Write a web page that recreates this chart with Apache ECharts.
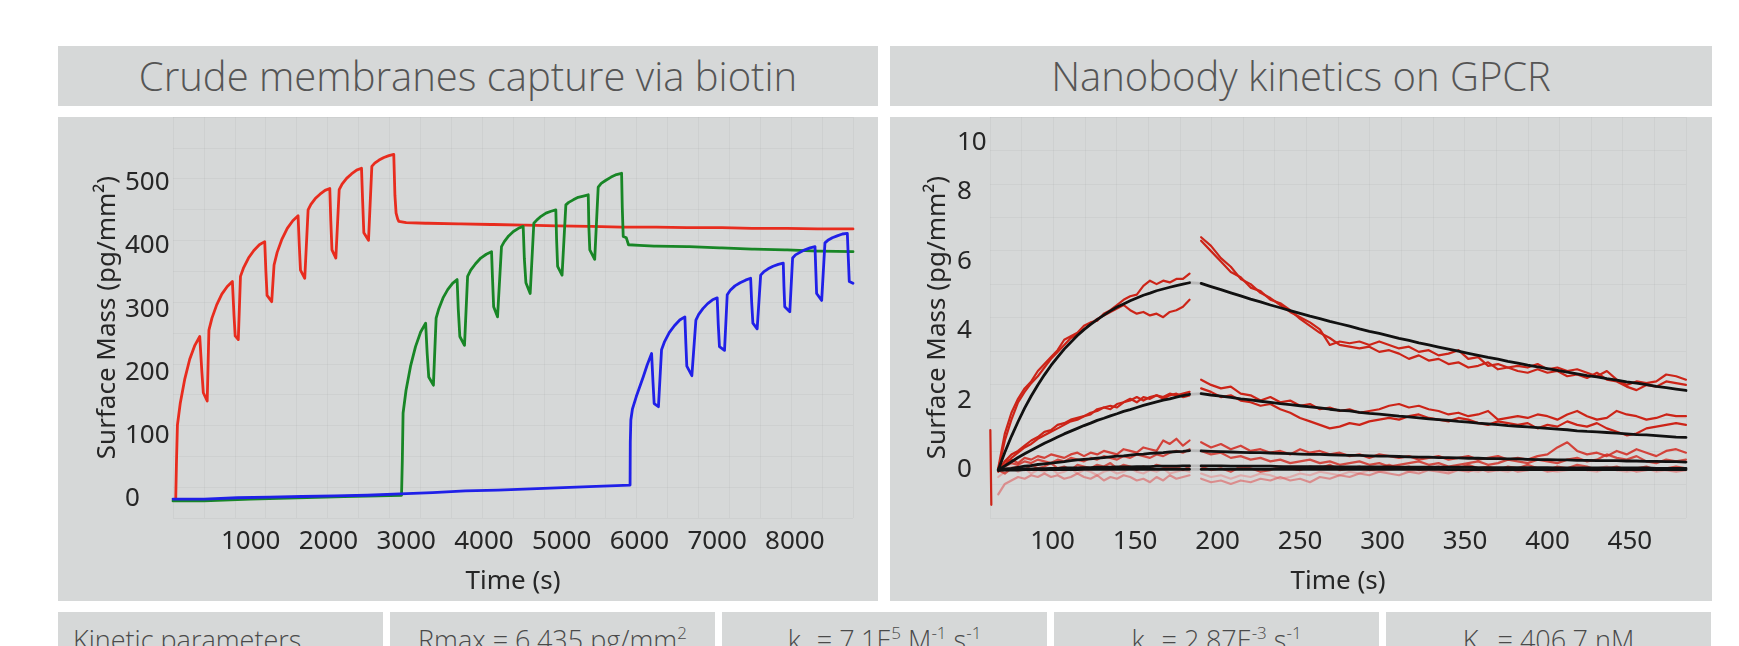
<!DOCTYPE html>
<html><head><meta charset="utf-8">
<script src="https://cdn.jsdelivr.net/npm/echarts@6/dist/echarts.min.js"></script>
<style>
html,body{margin:0;padding:0;background:#fff;width:1739px;height:646px;overflow:hidden;}
.p{position:absolute;background:#d6d8d8;}
.t{font-family:'Open Sans',sans-serif;font-weight:300;font-size:40px;color:#555;text-align:center;line-height:60px;white-space:nowrap;}
.c{font-family:'Open Sans',sans-serif;font-weight:300;font-size:27px;color:#4a4a4a;text-align:center;top:612px;height:40px;width:325px;padding-top:9px;line-height:37px;white-space:nowrap;}
.c sup{font-size:17px;line-height:0;vertical-align:11px;}
.c sub{font-size:17px;line-height:0;vertical-align:-8px;}
#chart{position:absolute;left:0;top:0;width:1739px;height:646px;}
</style></head>
<body>
<div class="p t" style="left:58px;top:46px;width:820px;height:60px;">Crude membranes capture via biotin</div>
<div class="p t" style="left:890px;top:46px;width:822px;height:60px;">Nanobody kinetics on GPCR</div>
<div class="p" style="left:58px;top:117px;width:820px;height:484px;"></div>
<div class="p" style="left:890px;top:117px;width:822px;height:484px;"></div>
<div class="p c" style="left:58px;text-align:left;padding-left:15px;width:310px;">Kinetic parameters</div>
<div class="p c" style="left:390px;">Rmax = 6.435 pg/mm<sup>2</sup></div>
<div class="p c" style="left:722px;">k<sub>a</sub> = 7.1E<sup>5</sup> M<sup>-1</sup> s<sup>-1</sup></div>
<div class="p c" style="left:1054px;">k<sub>d</sub> = 2.87E<sup>-3</sup> s<sup>-1</sup></div>
<div class="p c" style="left:1386px;">K<sub>D</sub> = 406.7 nM</div>
<div id="chart"></div>
<script>
// ---------- Left chart: capture (time s, surface mass pg/mm2) ----------
const leftXTicks = [1000,2000,3000,4000,5000,6000,7000,8000];
const leftYTicks = [0,100,200,300,400,500];
const redCapture = [[35,0],[45,60],[57,117],[94,152],[152,190],[215,221],[281,243],[344,257],
 [372,200],[390,168],[440,155],[452,152],
 [462,267],[501,286],[562,307],[628,324],[698,336],[764,344],
 [785,290],[800,258],[840,252],[852,249],
 [868,352],[909,366],[971,381],[1040,393],[1111,402],[1180,407],
 [1195,360],[1210,322],[1270,312],[1285,310],
 [1300,370],[1340,390],[1402,411],[1470,428],[1541,440],[1609,448],
 [1625,400],[1640,362],[1695,349],[1710,346],
 [1738,457],[1774,466],[1830,475],[1891,482],[1956,488],[2017,491],
 [2030,440],[2045,394],[2095,381],[2110,378],
 [2138,489],[2175,498],[2233,507],[2296,514],[2362,520],[2425,523],
 [2440,470],[2455,421],[2515,409],[2530,407],
 [2558,526],[2595,531],[2651,536],[2713,540],[2778,543],[2840,545],
 [2855,480],[2870,452],[2890,443],[2905,439],
 [3000,437],[3250,436],[3260,439],[3280,436],[3670,435],[3680,438],[3700,435],[4090,434],[4100,437],[4120,434],
 [4510,433],[4520,436],[4540,433],[4930,432],[4940,435],[4960,432],[5350,431],[5360,434],[5380,431],
 [5770,430],[5780,433],[5800,430],[6190,430],[6200,433],[6220,430],[6610,429],[6620,432],[6640,429],
 [7030,429],[7040,432],[7060,429],[7450,428],[7460,431],[7480,428],[7870,428],[7880,431],[7900,428],
 [8290,427],[8300,430],[8320,427],[8748,427]];
const greenCapture = [[0,-3],[400,-3],[420,0],[1000,0],[1020,2],[1600,2],[1620,4],[2200,4],[2220,6],[2940,6],
 [2950,60],[2960,136],[2998,172],[3056,210],[3120,241],[3186,264],[3250,278],
 [3270,230],[3290,193],[3350,180],[3365,178],
 [3385,286],[3420,301],[3474,318],[3534,331],[3596,341],[3655,347],
 [3670,300],[3690,257],[3750,243],[3767,241],
 [3790,352],[3830,362],[3892,372],[3959,381],[4030,387],[4098,391],
 [4110,350],[4125,304],[4175,288],[4190,286],
 [4226,399],[4262,407],[4318,416],[4379,423],[4444,428],[4505,431],
 [4520,380],[4540,342],[4595,325],[4610,323],
 [4642,436],[4679,441],[4735,447],[4798,452],[4863,455],[4925,457],
 [4935,410],[4948,368],[5005,354],[5020,352],
 [5054,465],[5091,469],[5149,473],[5212,477],[5279,479],[5342,481],
 [5350,430],[5362,394],[5425,379],[5440,377],
 [5470,493],[5509,499],[5569,504],[5636,509],[5705,513],[5771,515],
 [5780,460],[5792,415],[5815,414],[5832,413],[5860,402],
 [6000,401],[6190,400],[6200,403],[6220,400],[6610,399],[6620,402],[6640,399],[7030,397],[7040,400],[7060,397],
 [7450,395],[7460,398],[7480,395],[7870,394],[7880,397],[7900,394],[8290,392],[8300,395],[8320,392],[8748,391]];
const blueCapture = [[0,0],[400,0],[420,2],[830,2],[850,3],[1240,3],[1260,4],[1660,4],[1680,5],[2080,5],[2100,6],
 [2500,6],[2520,8],[2920,8],[2940,10],[3340,10],[3360,13],[3760,13],[3780,14],[4180,14],[4200,16],[4600,16],
 [4620,18],[5020,18],[5040,20],[5440,20],[5460,22],[5880,22],
 [5883,90],[5890,125],[5910,142],[5960,162],[6049,193],[6100,212],[6157,230],
 [6175,185],[6190,151],[6245,146],[6260,145],
 [6285,236],[6324,249],[6384,263],[6450,274],[6519,283],[6585,288],
 [6598,245],[6610,210],[6675,195],[6690,193],
 [6727,283],[6763,292],[6817,301],[6878,309],[6941,315],[7001,318],
 [7015,275],[7030,241],[7095,235],[7110,233],
 [7130,323],[7169,330],[7229,337],[7296,342],[7365,346],[7431,349],
 [7445,310],[7460,278],[7515,269],[7530,267],
 [7560,354],[7598,359],[7656,364],[7720,368],[7787,371],[7851,373],
 [7860,335],[7870,304],[7935,296],[7950,294],
 [7971,381],[8008,386],[8066,390],[8129,394],[8196,397],[8259,399],
 [8270,360],[8280,325],[8345,314],[8360,312],
 [8387,405],[8424,409],[8482,413],[8545,416],[8612,419],[8675,420],
 [8688,380],[8700,344],[8748,341]];

// ---------- Right chart: kinetics ----------
const rightXTicks = [100,150,200,250,300,350,400,450];
const rightYTicks = [0,2,4,6,8,10];
const assocT = [67,71,75,79,83,87,91,95,99,103,107,111,115,119,123,127,131,135,139,143,147,151,155,159,163,167,171,175,179,183];
const dissocT = [190,196,202,208,214,220,226,232,238,244,250,256,262,268,274,280,286,292,298,304,310,316,322,328,334,340,346,352,358,364,370,376,382,388,394,400,406,412,418,424,430,436,442,448,454,460,466,472,478,484];
const injectSpike = [[62.2,1.15],[62.8,-1.0]];
const trA1a = [0.05,1.05,1.65,2.05,2.35,2.55,2.85,3.05,3.25,3.45,3.75,3.85,3.95,4.15,4.25,4.3,4.5,4.6,4.75,4.9,5.0,5.05,5.3,5.45,5.35,5.45,5.4,5.5,5.5,5.65];
const trA2a = [0.0,0.85,1.45,1.95,2.25,2.5,2.7,2.95,3.2,3.4,3.6,3.8,3.9,4.05,4.2,4.35,4.45,4.55,4.65,4.75,4.6,4.5,4.55,4.45,4.5,4.4,4.55,4.6,4.7,4.9];
const trA1d = [6.7,6.45,6.1,5.85,5.5,5.35,5.1,4.95,4.75,4.55,4.4,4.25,4.05,3.6,3.7,3.65,3.7,3.6,3.7,3.6,3.5,3.55,3.4,3.45,3.3,3.35,3.45,3.2,3.25,3.0,3.05,2.95,3.0,2.95,3.05,2.9,2.95,2.85,2.9,2.8,2.7,2.85,2.6,2.45,2.55,2.5,2.55,2.75,2.7,2.6];
const trA2d = [6.6,6.3,6.0,5.7,5.55,5.25,5.15,4.9,4.8,4.6,4.35,4.15,3.95,3.8,3.6,3.55,3.5,3.55,3.4,3.45,3.35,3.2,3.3,3.15,3.2,3.05,3.1,2.95,3.0,3.1,2.9,2.95,2.85,2.8,2.9,2.8,2.85,2.7,2.75,2.65,2.8,2.6,2.55,2.4,2.3,2.45,2.4,2.55,2.5,2.45];
const trB1a = [0.0,0.25,0.45,0.55,0.7,0.85,0.95,1.1,1.15,1.3,1.35,1.45,1.5,1.55,1.6,1.75,1.8,1.75,1.9,1.95,2.05,1.95,2.1,2.05,2.15,2.1,2.2,2.15,2.2,2.25];
const trB2a = [-0.05,0.15,0.35,0.5,0.65,0.75,0.9,1.0,1.1,1.2,1.3,1.4,1.45,1.55,1.65,1.7,1.8,1.85,1.8,1.95,2.0,2.1,2.0,2.1,2.15,2.05,2.15,2.2,2.1,2.15];
const trB1d = [2.6,2.45,2.35,2.4,2.2,2.15,2.0,2.1,1.95,2.0,1.85,1.9,1.75,1.8,1.7,1.75,1.65,1.7,1.75,1.85,1.9,1.8,1.85,1.75,1.7,1.6,1.65,1.55,1.6,1.7,1.45,1.5,1.55,1.5,1.6,1.55,1.45,1.6,1.7,1.55,1.45,1.5,1.7,1.6,1.55,1.45,1.5,1.6,1.55,1.55];
const trB2d = [2.35,2.25,2.1,2.15,2.0,1.95,1.85,1.9,1.75,1.65,1.5,1.4,1.3,1.2,1.25,1.35,1.3,1.4,1.45,1.5,1.45,1.55,1.6,1.5,1.45,1.4,1.5,1.45,1.35,1.3,1.4,1.35,1.3,1.35,1.2,1.3,1.25,1.4,1.3,1.25,1.35,1.2,1.1,1.0,1.05,1.2,1.25,1.3,1.35,1.3];
const trC1a = [0.0,0.25,0.3,0.2,0.35,0.3,0.4,0.35,0.45,0.4,0.35,0.45,0.5,0.4,0.5,0.45,0.55,0.5,0.45,0.6,0.55,0.5,0.65,0.6,0.55,0.85,0.75,0.9,0.7,0.85];
const trC2a = [0.0,0.1,0.2,0.15,0.25,0.2,0.3,0.25,0.2,0.3,0.25,0.35,0.3,0.25,0.35,0.3,0.4,0.35,0.3,0.4,0.35,0.45,0.4,0.35,0.45,0.4,0.5,0.55,0.5,0.6];
const trC1d = [0.8,0.65,0.75,0.6,0.7,0.55,0.6,0.5,0.55,0.45,0.6,0.5,0.55,0.45,0.5,0.4,0.45,0.35,0.45,0.4,0.35,0.4,0.3,0.35,0.4,0.3,0.35,0.4,0.3,0.35,0.4,0.3,0.35,0.3,0.4,0.45,0.65,0.8,0.55,0.45,0.5,0.4,0.55,0.45,0.6,0.5,0.4,0.55,0.6,0.5];
const trC2d = [0.55,0.45,0.5,0.35,0.4,0.3,0.35,0.25,0.3,0.2,0.25,0.3,0.2,0.25,0.15,0.2,0.25,0.15,0.2,0.1,0.15,0.2,0.25,0.15,0.2,0.1,0.15,0.2,0.25,0.15,0.2,0.3,0.25,0.2,0.3,0.25,0.2,0.3,0.35,0.25,0.3,0.45,0.35,0.3,0.4,0.25,0.2,0.3,0.25,0.3];
const trD1a = [0.0,-0.1,0.05,0.1,0.0,0.15,0.05,0.1,0.2,0.05,0.1,0.0,0.15,0.1,0.05,0.15,0.1,0.2,0.05,0.15,0.1,0.0,0.1,0.05,0.15,0.1,0.05,0.1,0.0,0.1];
const trD1d = [0.1,0.0,0.05,-0.05,0.1,0.05,-0.05,0.0,0.1,0.05,0.0,0.1,0.05,0.15,0.0,0.05,0.1,0.0,0.05,0.15,0.05,0.1,0.0,0.05,0.1,0.0,0.05,0.15,0.05,0.1,0.0,0.1,0.05,0.15,0.05,0.0,0.1,0.05,0.15,0.1,0.0,0.05,0.1,0.0,0.05,0.1,0.0,0.05,0.1,0.05];
const trE1a = [-0.7,-0.4,-0.3,-0.2,-0.25,-0.15,-0.2,-0.1,-0.2,-0.15,-0.25,-0.2,-0.1,-0.2,-0.25,-0.15,-0.3,-0.2,-0.25,-0.15,-0.2,-0.3,-0.25,-0.35,-0.2,-0.3,-0.15,-0.25,-0.2,-0.15];
const trE1d = [-0.25,-0.35,-0.3,-0.4,-0.3,-0.35,-0.25,-0.3,-0.2,-0.3,-0.25,-0.35,-0.2,-0.25,-0.15,-0.2,-0.1,-0.15,-0.05,-0.1,-0.15,-0.05,-0.1,0.0,-0.05,-0.1,0.0,-0.05,0.05,-0.05,0.0,0.05,-0.05,0.0,0.05,-0.05,0.0,0.05,0.1,0.0,0.05,0.1,0.0,0.05,-0.05,0.0,0.05,0.0,-0.05,0.0];
const trE2a = [-0.2,-0.05,0.1,-0.05,0.05,-0.1,0.0,-0.05,0.05,-0.1,-0.05,0.05,-0.1,0.0,-0.05,-0.15,-0.05,0.0,-0.1,-0.05,0.05,-0.05,-0.1,0.0,-0.05,0.05,-0.1,-0.05,0.0,-0.05];
const trE2d = [-0.1,-0.2,-0.15,-0.25,-0.15,-0.2,-0.1,-0.15,-0.25,-0.2,-0.1,-0.15,-0.05,-0.1,-0.15,-0.05,-0.1,0.0,-0.05,0.0,0.05,-0.05,0.0,0.05,0.0,-0.05,0.05,0.0,-0.05,0.05,0.0,-0.05,0.05,0.0,0.05,0.0,-0.05,0.0,0.05,0.0,-0.05,0.05,0.0,-0.05,0.0,0.05,-0.05,0.0,0.05,0.0];
const fit1a = [0,0.51,0.97,1.39,1.78,2.13,2.45,2.74,3.01,3.25,3.48,3.68,3.87,4.04,4.19,4.33,4.46,4.58,4.69,4.78,4.87,4.95,5.03,5.09,5.16,5.21,5.26,5.31,5.35,5.39];
const fit1d = [5.37,5.28,5.19,5.10,5.01,4.92,4.84,4.75,4.67,4.59,4.51,4.43,4.36,4.28,4.21,4.14,4.06,3.99,3.93,3.86,3.79,3.73,3.66,3.60,3.54,3.48,3.42,3.36,3.30,3.24,3.19,3.13,3.08,3.02,2.97,2.92,2.87,2.82,2.77,2.72,2.68,2.63,2.59,2.54,2.50,2.46,2.41,2.37,2.33,2.29];
const fit2a = [0,0.12,0.24,0.36,0.47,0.57,0.67,0.77,0.86,0.95,1.04,1.12,1.20,1.28,1.35,1.43,1.49,1.56,1.62,1.69,1.74,1.80,1.86,1.91,1.96,2.01,2.05,2.10,2.14,2.18];
const fit2d = [2.20,2.16,2.13,2.09,2.05,2.02,1.98,1.95,1.91,1.88,1.85,1.82,1.79,1.75,1.72,1.70,1.66,1.63,1.61,1.58,1.55,1.53,1.50,1.47,1.45,1.43,1.40,1.38,1.35,1.33,1.31,1.28,1.26,1.24,1.22,1.20,1.18,1.16,1.13,1.11,1.10,1.08,1.06,1.04,1.02,1.01,0.99,0.97,0.95,0.94];
const fit3a = [0,0.03,0.05,0.08,0.11,0.13,0.16,0.18,0.20,0.22,0.24,0.27,0.29,0.31,0.32,0.34,0.36,0.38,0.40,0.41,0.43,0.45,0.46,0.48,0.49,0.50,0.52,0.53,0.54,0.56];
const fit3d = [0.55,0.54,0.53,0.52,0.51,0.50,0.50,0.49,0.48,0.47,0.46,0.45,0.45,0.44,0.43,0.42,0.42,0.41,0.40,0.40,0.39,0.38,0.37,0.37,0.36,0.36,0.35,0.34,0.34,0.33,0.33,0.32,0.32,0.31,0.30,0.30,0.29,0.29,0.28,0.28,0.27,0.27,0.27,0.26,0.26,0.25,0.25,0.24,0.24,0.23];
const fit4a = [0,0.01,0.02,0.02,0.03,0.03,0.04,0.04,0.05,0.05,0.06,0.06,0.06,0.07,0.07,0.08,0.08,0.08,0.09,0.09,0.09,0.10,0.10,0.10,0.11,0.11,0.11,0.11,0.12,0.12];
const fit4d = [0.12,0.12,0.12,0.11,0.11,0.11,0.11,0.11,0.10,0.10,0.10,0.10,0.10,0.10,0.09,0.09,0.09,0.09,0.09,0.09,0.08,0.08,0.08,0.08,0.08,0.08,0.08,0.08,0.07,0.07,0.07,0.07,0.07,0.07,0.07,0.07,0.06,0.06,0.06,0.06,0.06,0.06,0.06,0.06,0.06,0.06,0.05,0.05,0.05,0.05];
const fit5a = [0,0,0,0,0.01,0.01,0.01,0.01,0.01,0.01,0.01,0.01,0.01,0.02,0.02,0.02,0.02,0.02,0.02,0.02,0.02,0.02,0.02,0.02,0.02,0.02,0.02,0.02,0.02,0.02];
const fit5d = [0.02,0.02,0.02,0.02,0.02,0.02,0.02,0.02,0.02,0.02,0.02,0.02,0.02,0.02,0.02,0.02,0.02,0.02,0.02,0.02,0.02,0.02,0.02,0.02,0.02,0.01,0.01,0.01,0.01,0.01,0.01,0.01,0.01,0.01,0.01,0.01,0.01,0.01,0.01,0.01,0.01,0.01,0.01,0.01,0.01,0.01,0.01,0.01,0.01,0.01];

const zip = (ts, vs) => ts.slice(0, vs.length).map((t, i) => [t, vs[i]]);
const TXT = '#262626', FONT = 'Noto Sans';
const RED_R = 'rgb(204,36,24)';

function line(data, color, width, xi, yi, z) {
  return {type:'line', data:data, xAxisIndex:xi, yAxisIndex:yi, showSymbol:false, symbol:'none',
    silent:true, animation:false, z:z||2, lineStyle:{color:color, width:width, join:'round', cap:'round'}};
}
const series = [];
series.push(line(redCapture, 'rgb(232,44,30)', 2.8, 0, 0));
series.push(line(greenCapture, 'rgb(24,134,38)', 2.8, 0, 0));
series.push(line(blueCapture, 'rgb(32,32,232)', 2.8, 0, 0));

const traceSets = [
  [trE2a, trE2d, 'rgba(232,120,120,0.45)', 2.2],
  [trE1a, trE1d, 'rgba(222,80,80,0.55)', 2.2],
  [trD1a, trD1d, 'rgba(210,40,30,0.75)', 2.2],
  [trC2a, trC2d, 'rgba(210,40,30,0.8)', 2.2],
  [trC1a, trC1d, 'rgba(210,40,30,0.85)', 2.2],
  [trB2a, trB2d, RED_R, 2.2],
  [trB1a, trB1d, RED_R, 2.2],
  [trA2a, trA2d, RED_R, 2.2],
  [trA1a, trA1d, RED_R, 2.2]
];
traceSets.forEach(s => {
  series.push(line(zip(assocT, s[0]), s[2], s[3], 2, 2, 3));
  series.push(line(zip(dissocT, s[1]), s[2], s[3], 2, 2, 3));
});
series.push(line(injectSpike, RED_R, 2.2, 2, 2, 3));
const fits = [[fit5a, fit5d],[fit4a, fit4d],[fit3a, fit3d],[fit2a, fit2d],[fit1a, fit1d]];
fits.forEach(f => {
  series.push(line([[assocT[assocT.length-1], f[0][f[0].length-1]], [dissocT[0], f[1][0]]], 'rgba(175,175,175,0.7)', 2.8, 2, 2, 4));
  series.push(line(zip(assocT, f[0]), '#111', 2.8, 2, 2, 5));
  series.push(line(zip(dissocT, f[1]), '#111', 2.8, 2, 2, 5));
});

const lbl = {fontSize:26, color:TXT, fontFamily:FONT};
const nameStyle = {fontSize:26, color:TXT, fontFamily:FONT};
function gridAxis(min, max, interval, gi) {
  return {gridIndex:gi, type:'value', min:min, max:max, interval:interval, axisLine:{show:false}, axisTick:{show:false},
    axisLabel:{show:false}, splitLine:{show:true, lineStyle:{color:'rgba(0,0,0,0.035)', width:1}}};
}
const option = {
  backgroundColor:'transparent',
  animation:false,
  grid:[
    {left:173, top:117, right:886, bottom:128},
    {left:990, top:117, right:53, bottom:128}
  ],
  xAxis:[
    {gridIndex:0, type:'value', min:0, max:8748, axisLine:{show:false}, axisTick:{show:false}, splitLine:{show:false},
      axisLabel:Object.assign({customValues:leftXTicks, margin:11, formatter:v=>String(v)}, lbl),
      name:'Time (s)', nameLocation:'middle', nameGap:51, nameTextStyle:nameStyle},
    gridAxis(0, 8800, 400, 0),
    {gridIndex:1, type:'value', min:62, max:484, axisLine:{show:false}, axisTick:{show:false}, splitLine:{show:false},
      axisLabel:Object.assign({customValues:rightXTicks, margin:11, formatter:v=>String(v)}, lbl),
      name:'Time (s)', nameLocation:'middle', nameGap:51, nameTextStyle:nameStyle},
    gridAxis(0, 440, 20, 1)
  ],
  yAxis:[
    {gridIndex:0, type:'value', min:-30, max:604, axisLine:{show:false}, axisTick:{show:false}, splitLine:{show:false},
      axisLabel:Object.assign({customValues:leftYTicks, margin:48, align:'left', formatter:v=>String(v)}, lbl),
      name:'Surface Mass (pg/mm²)', nameLocation:'middle', nameRotate:90, nameGap:52, nameTextStyle:nameStyle},
    gridAxis(0, 650, 50, 0),
    {gridIndex:1, type:'value', min:-1.38, max:10.16, axisLine:{show:false}, axisTick:{show:false}, splitLine:{show:false},
      axisLabel:Object.assign({customValues:rightYTicks, margin:33, align:'left',
        formatter:v=> v === 10 ? '{lo|10}' : String(v),
        rich:{lo:{fontSize:26, color:TXT, fontFamily:FONT, padding:[40,0,0,0]}}}, lbl),
      name:'Surface Mass (pg/mm²)', nameLocation:'middle', nameRotate:90, nameGap:39, nameTextStyle:nameStyle},
    gridAxis(0, 12, 1, 1)
  ],
  series: series
};
const chart = echarts.init(document.getElementById('chart'), null, {renderer:'canvas'});
chart.setOption(option);
</script>
</body></html>
